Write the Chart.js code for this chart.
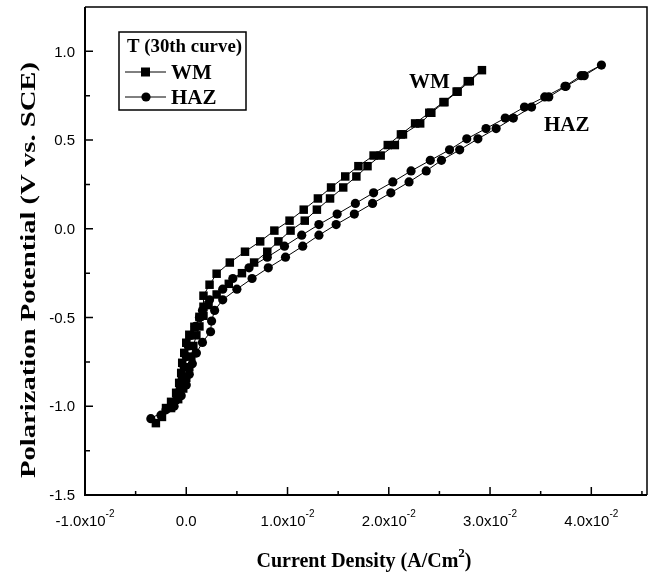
<!DOCTYPE html>
<html>
<head>
<meta charset="utf-8">
<script src="https://cdn.jsdelivr.net/npm/chart.js@4.4.1/dist/chart.umd.min.js"></script>
<style>
html,body{margin:0;padding:0;background:#fff;}
#wrap{width:653px;height:578px;}
</style>
</head>
<body>
<div id="wrap"><canvas id="c" width="653" height="578"></canvas></div>
<script>
// ---- data (x in A/cm^2, y in V vs SCE) ----
const wmX = [-0.0030,-0.0020,-0.0015,-0.0010,-0.0007,-0.0005,-0.0004,-0.0002,0.0000,0.0003,0.0008,0.0013,0.0017,0.0017,0.0023,0.0030,0.0043,0.0058,0.0073,0.0087,0.0102,0.0116,0.0130,0.0143,0.0157,0.0170,0.0185,0.0199,0.0212,0.0226,0.0240,0.0254,0.0267,0.0278,0.0292,
             0.0280,0.0268,0.0255,0.0242,0.0231,0.0214,0.0206,0.0192,0.0179,0.0168,0.0155,0.0142,0.0129,0.0117,0.0103,0.0091,0.0080,0.0067,0.0055,0.0042,0.0030,0.0022,0.0017,0.0013,0.0010,0.0007,0.0005,0.0003,0.0000,-0.0003,-0.0008,-0.0015,-0.0024];
const wmY = [-1.095,-1.010,-0.975,-0.924,-0.868,-0.812,-0.755,-0.699,-0.642,-0.597,-0.552,-0.496,-0.439,-0.377,-0.315,-0.253,-0.190,-0.129,-0.071,-0.010,0.046,0.108,0.171,0.233,0.295,0.353,0.413,0.472,0.532,0.594,0.654,0.714,0.773,0.832,0.894,
             0.832,0.773,0.714,0.654,0.594,0.532,0.472,0.413,0.353,0.295,0.233,0.171,0.108,0.046,-0.010,-0.071,-0.129,-0.190,-0.250,-0.310,-0.370,-0.430,-0.490,-0.550,-0.600,-0.660,-0.720,-0.780,-0.840,-0.900,-0.960,-1.010,-1.060];
const hazX = [-0.0035,-0.0020,-0.0010,-0.0006,-0.0004,-0.0002,0.0000,0.0002,0.0005,0.0009,0.0013,0.0016,0.0023,0.0036,0.0046,0.0062,0.0080,0.0097,0.0114,0.0131,0.0149,0.0167,0.0185,0.0204,0.0222,0.0241,0.0260,0.0277,0.0296,0.0315,0.0334,0.0354,0.0374,0.0390,0.0410,
              0.0393,0.0375,0.0358,0.0341,0.0323,0.0306,0.0288,0.0270,0.0252,0.0237,0.0220,0.0202,0.0184,0.0166,0.0148,0.0131,0.0115,0.0098,0.0081,0.0065,0.0050,0.0036,0.0028,0.0025,0.0024,0.0016,0.0010,0.0006,0.0003,0.0000,-0.0005,-0.0012,-0.0025];
const hazY = [-1.070,-1.020,-0.964,-0.900,-0.840,-0.780,-0.720,-0.660,-0.600,-0.550,-0.500,-0.460,-0.400,-0.340,-0.280,-0.220,-0.160,-0.098,-0.036,0.024,0.083,0.143,0.203,0.264,0.326,0.386,0.445,0.507,0.565,0.624,0.686,0.743,0.803,0.863,0.923,
              0.863,0.803,0.743,0.686,0.624,0.565,0.507,0.445,0.386,0.326,0.264,0.203,0.143,0.083,0.024,-0.036,-0.098,-0.160,-0.220,-0.280,-0.340,-0.400,-0.460,-0.520,-0.580,-0.640,-0.700,-0.760,-0.820,-0.880,-0.940,-1.000,-1.050];
const seriesNames = ["WM", "HAZ"];
const xTicks = [-0.01, 0, 0.01, 0.02, 0.03, 0.04];
const xTickMant = ["-1.0", "0.0", "1.0", "2.0", "3.0", "4.0"];
const xTickExp = ["-2", "", "-2", "-2", "-2", "-2"];
const xMinor = [-0.005, 0.005, 0.015, 0.025, 0.035, 0.045];
const yTicks = [-1.5, -1.0, -0.5, 0.0, 0.5, 1.0];
const yTickLabels = ["-1.5", "-1.0", "-0.5", "0.0", "0.5", "1.0"];
const yMinor = [-1.25, -0.75, -0.25, 0.25, 0.75];
const legendTitle = "T (30th curve)";
const xTitle = "Current Density (A/Cm";
const xTitleSup = "2";
const yTitle = "Polarization Potential (V vs. SCE)";

const toPts = (xs, ys) => xs.map((x, i) => ({x: x, y: ys[i]}));

const SERIF = '"Liberation Serif", "DejaVu Serif", serif';
const SANS = '"Liberation Sans", Arial, sans-serif';

function fitText(ctx, txt, x, y, target) {
  const w = ctx.measureText(txt).width;
  ctx.save();
  ctx.translate(x, y);
  ctx.scale(target / w, 1);
  ctx.fillText(txt, 0, 0);
  ctx.restore();
}

const deco = {
  id: 'deco',
  afterDraw(chart) {
    const ctx = chart.ctx;
    const a = chart.chartArea;
    const xs = chart.scales.x, ys = chart.scales.y;
    ctx.save();
    ctx.strokeStyle = '#000';
    ctx.fillStyle = '#000';
    // frame
    ctx.lineWidth = 1.5;
    ctx.beginPath();
    ctx.moveTo(a.left, a.top); ctx.lineTo(a.right, a.top); ctx.lineTo(a.right, a.bottom);
    ctx.stroke();
    ctx.lineWidth = 2;
    ctx.beginPath();
    ctx.moveTo(a.left, a.top); ctx.lineTo(a.left, a.bottom); ctx.lineTo(a.right, a.bottom);
    ctx.stroke();
    // inward ticks
    ctx.lineWidth = 1.5;
    ctx.beginPath();
    xTicks.forEach(v => { const p = xs.getPixelForValue(v); ctx.moveTo(p, a.bottom); ctx.lineTo(p, a.bottom - 8); });
    xMinor.forEach(v => { const p = xs.getPixelForValue(v); ctx.moveTo(p, a.bottom); ctx.lineTo(p, a.bottom - 4); });
    yTicks.forEach(v => { const p = ys.getPixelForValue(v); ctx.moveTo(a.left, p); ctx.lineTo(a.left + 8, p); });
    yMinor.forEach(v => { const p = ys.getPixelForValue(v); ctx.moveTo(a.left, p); ctx.lineTo(a.left + 5, p); });
    ctx.stroke();
    // y tick labels
    ctx.font = '15px ' + SANS;
    ctx.textAlign = 'right';
    ctx.textBaseline = 'middle';
    yTicks.forEach((v, i) => ctx.fillText(yTickLabels[i], a.left - 10, ys.getPixelForValue(v) + 1));
    // x tick labels with superscript
    ctx.textBaseline = 'alphabetic';
    ctx.textAlign = 'left';
    xTicks.forEach((v, i) => {
      const p = xs.getPixelForValue(v);
      const base = xTickExp[i] ? xTickMant[i] + 'x10' : xTickMant[i];
      ctx.font = '15px ' + SANS;
      const w1 = ctx.measureText(base).width;
      ctx.font = '10px ' + SANS;
      const w2 = xTickExp[i] ? ctx.measureText(xTickExp[i]).width : 0;
      const x0 = p - (w1 + w2) / 2;
      ctx.font = '15px ' + SANS;
      ctx.fillText(base, x0, a.bottom + 31);
      if (xTickExp[i]) { ctx.font = '10px ' + SANS; ctx.fillText(xTickExp[i], x0 + w1, a.bottom + 22); }
    });
    // x title
    ctx.font = 'bold 20px ' + SERIF;
    const tw1 = ctx.measureText(xTitle).width;
    ctx.font = 'bold 13px ' + SERIF;
    const tw2 = ctx.measureText(xTitleSup).width;
    ctx.font = 'bold 20px ' + SERIF;
    const tw3 = ctx.measureText(')').width;
    let tx = 364 - (tw1 + tw2 + tw3) / 2;
    const tyb = 567;
    ctx.fillText(xTitle, tx, tyb);
    ctx.font = 'bold 13px ' + SERIF;
    ctx.fillText(xTitleSup, tx + tw1, tyb - 10);
    ctx.font = 'bold 20px ' + SERIF;
    ctx.fillText(')', tx + tw1 + tw2, tyb);
    // y title
    ctx.save();
    ctx.translate(35, 270);
    ctx.rotate(-Math.PI / 2);
    ctx.font = 'bold 21px ' + SERIF;
    ctx.textAlign = 'center';
    const yw = ctx.measureText(yTitle).width;
    ctx.scale(416 / yw, 1);
    ctx.fillText(yTitle, 0, 0);
    ctx.restore();
    // legend
    ctx.lineWidth = 1.5;
    ctx.strokeRect(119, 32, 127, 78);
    ctx.font = 'bold 18px ' + SERIF;
    ctx.textAlign = 'left';
    fitText(ctx, legendTitle, 127, 52, 115);
    ctx.lineWidth = 1;
    [[72, 'rect'], [97, 'circle']].forEach((e, i) => {
      const y = e[0];
      ctx.beginPath(); ctx.moveTo(125, y); ctx.lineTo(166, y); ctx.stroke();
      if (e[1] === 'rect') { ctx.fillRect(141, y - 4.5, 9, 9); }
      else { ctx.beginPath(); ctx.arc(146, y, 4.6, 0, Math.PI * 2); ctx.fill(); }
      ctx.font = 'bold 21px ' + SERIF;
      ctx.fillText(seriesNames[i], 171, y + 7);
    });
    // curve annotations
    ctx.font = 'bold 21px ' + SERIF;
    ctx.fillText(seriesNames[0], 409, 88);
    ctx.fillText(seriesNames[1], 544, 131);
    ctx.restore();
  }
};

new Chart(document.getElementById('c'), {
  type: 'scatter',
  data: {
    datasets: [
      { label: seriesNames[0], data: toPts(wmX, wmY), showLine: true, borderColor: '#000', borderWidth: 1,
        backgroundColor: '#000', pointBackgroundColor: '#000', pointBorderWidth: 0, pointStyle: 'rect', pointRadius: 6, tension: 0 },
      { label: seriesNames[1], data: toPts(hazX, hazY), showLine: true, borderColor: '#000', borderWidth: 1,
        backgroundColor: '#000', pointBackgroundColor: '#000', pointBorderWidth: 0, pointStyle: 'circle', pointRadius: 4.6, tension: 0 }
    ]
  },
  options: {
    responsive: false,
    animation: false,
    devicePixelRatio: 1,
    layout: { padding: { left: 0, top: 7, right: 3, bottom: 0 } },
    plugins: { legend: { display: false }, tooltip: { enabled: false } },
    scales: {
      x: { type: 'linear', min: -0.01, max: 0.0455,
           grid: { display: false }, border: { display: false }, ticks: { display: false },
           afterFit: s => { s.height = 83; } },
      y: { type: 'linear', min: -1.5, max: 1.25,
           grid: { display: false }, border: { display: false }, ticks: { display: false },
           afterFit: s => { s.width = 85; } }
    }
  },
  plugins: [deco]
});
</script>
</body>
</html>
